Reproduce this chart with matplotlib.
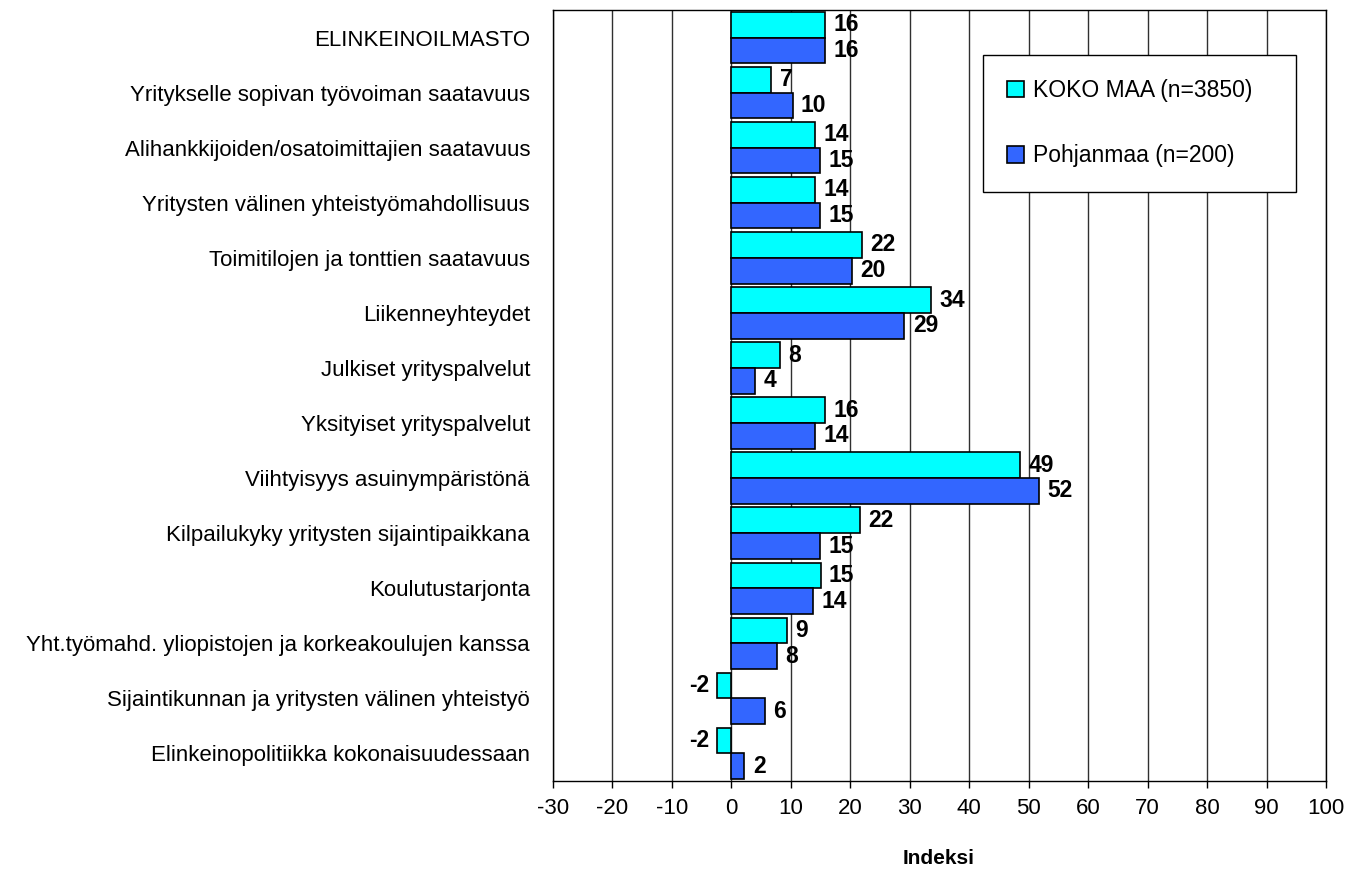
#!/usr/bin/env python

import numpy as np
import matplotlib
matplotlib.use('Agg')
import matplotlib.pyplot as plt

matplotlib.rcParams['font.family'] = ['Liberation Sans', 'DejaVu Sans']

categories = ['ELINKEINOILMASTO',
              'Yritykselle sopivan työvoiman saatavuus',
              'Alihankkijoiden/osatoimittajien saatavuus',
              'Yritysten välinen yhteistyömahdollisuus',
              'Toimitilojen ja tonttien saatavuus',
              'Liikenneyhteydet',
              'Julkiset yrityspalvelut',
              'Yksityiset yrityspalvelut',
              'Viihtyisyys asuinympäristönä',
              'Kilpailukyky yritysten sijaintipaikkana',
              'Koulutustarjonta',
              'Yht.työmahd. yliopistojen ja korkeakoulujen kanssa',
              'Sijaintikunnan ja yritysten välinen yhteistyö',
              'Elinkeinopolitiikka kokonaisuudessaan']

koko_maa = [15.7, 6.7, 14.1, 14.1, 22.0, 33.6, 8.2, 15.7, 48.6, 21.6, 15.0, 9.4, -2.4, -2.4]
pohjanmaa = [15.7, 10.3, 14.9, 14.9, 20.3, 29.1, 4.0, 14.1, 51.8, 14.9, 13.8, 7.6, 5.6, 2.2]

series_names = ['KOKO MAA (n=3850)', 'Pohjanmaa (n=200)']
xticks = list(range(-30, 101, 10))

fig = plt.figure(figsize=(13.54, 8.92), dpi=100)
ax = fig.add_axes([553/1354, 1-781/892, (1326-553)/1354, (781-10)/892])

y = np.arange(len(categories))
h = 0.467
b1 = ax.barh(y - h/2, koko_maa, height=h, color='#00FFFF', edgecolor='black',
             linewidth=1.2, label=series_names[0], zorder=3)
b2 = ax.barh(y + h/2, pohjanmaa, height=h, color='#3366FF', edgecolor='black',
             linewidth=1.2, label=series_names[1], zorder=3)

# value labels, right of the bar end (left for negatives)
for bars, vals in ((b1, koko_maa), (b2, pohjanmaa)):
    for rect, v in zip(bars, vals):
        yc = rect.get_y() + rect.get_height()/2
        if v >= 0:
            ax.annotate('%.0f' % v, (v, yc), xytext=(6, 0), textcoords='offset points',
                        ha='left', va='center', fontsize=16.5, fontweight='bold')
        else:
            ax.annotate('%.0f' % v, (v, yc), xytext=(-6, 0), textcoords='offset points',
                        ha='right', va='center', fontsize=16.5, fontweight='bold')

ax.set_xlim(-30, 100)
ax.set_ylim(len(categories) - 0.5, -0.5)
ax.set_xticks(xticks)
ax.set_xticklabels([str(t) for t in xticks], fontsize=16)
ax.set_yticks(y)
ax.set_yticklabels(categories, fontsize=16)
ax.tick_params(axis='y', length=0, pad=16.5)
ax.tick_params(axis='x', direction='out', length=5, width=1, pad=7)
ax.grid(axis='x', color='#303030', linewidth=1, zorder=0)
for s in ax.spines.values():
    s.set_linewidth(1)
    s.set_color('black')

fig.text(939/1354, 1-858/892, 'Indeksi', ha='center', va='center',
         fontsize=15, fontweight='bold')

x0, x1 = 983/1354, 1296/1354
y0, y1 = 1-190/892, 1-55/892
leg = ax.legend(loc='upper left', bbox_to_anchor=(x0, y0, x1-x0, y1-y0),
                bbox_transform=fig.transFigure, mode='expand', fontsize=16.5,
                frameon=True, fancybox=False, edgecolor='black', framealpha=1,
                borderpad=1.05, labelspacing=1.85, handlelength=0.72,
                handleheight=0.72, handletextpad=0.4, borderaxespad=0)
leg.get_frame().set_linewidth(1)
for hnd in leg.legend_handles:
    hnd.set_linewidth(1.2)

plt.savefig('out.png', dpi=100)
